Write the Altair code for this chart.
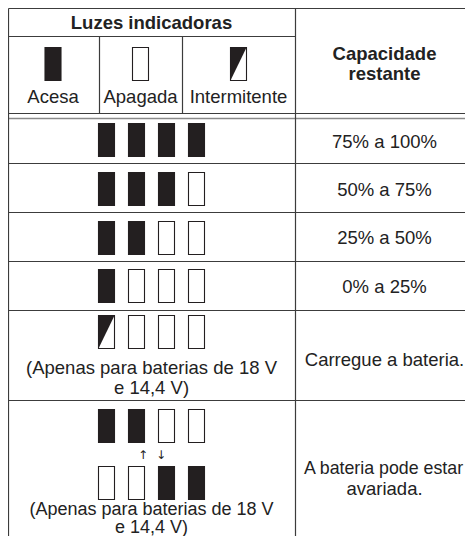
import altair as alt
import pandas as pd

# ---------------- content ----------------
header_left = "Luzes indicadoras"
header_right = ["Capacidade", "restante"]
legend_labels = ["Acesa", "Apagada", "Intermitente"]
legend_states = ["on", "off", "blink"]

# indicator patterns (4 lamps each)
pattern_states = [
    ["on", "on", "on", "on"],
    ["on", "on", "on", "off"],
    ["on", "on", "off", "off"],
    ["on", "off", "off", "off"],
    ["blink", "off", "off", "off"],
    ["on", "on", "off", "off"],
    ["off", "off", "on", "on"],
]
capacity_texts = [
    ["75% a 100%"],
    ["50% a 75%"],
    ["25% a 50%"],
    ["0% a 25%"],
    ["Carregue a bateria."],
    ["A bateria pode estar", "avariada."],
]
note_lines = ["(Apenas para baterias de 18 V", "e 14,4 V)"]
arrow_glyphs = ["\u2191", "\u2193"]

# ---------------- layout (pixels) ----------------
W, H = 457, 528
Y_END = 8 + H
X0, XM, XR = 8.5, 295.5, 8 + W
LEFT_C = 151.5
RIGHT_C = 384.5
Y_TOP, Y_HDIV, Y_HBOT, Y_HBOT2 = 8.5, 36.5, 113.5, 118.5
row_bounds = [118.5, 163.5, 212.5, 261.5, 310.5, 400.5]
sub_div_x = [99.5, 182.5]
legend_cx = [53, 140.5, 238.5]
ICON_W, ICON_H = 16, 33
lamp_offsets = [-45, -15, 15, 45]
legend_top = 47.5

pattern_tops = [123.5, 172.5, 221.5, 269.5, 315.5, 409.5, 466.5]
capacity_y = [[142], [190], [238], [287], [360], [469, 489]]
capacity_size = [[18.5], [18.5], [18.5], [18.5], [18.5], [17.8, 18.5]]
note_y = [[368, 388], [509.5, 527.5]]
note_size = [18.5, 18]
arrow_x = [143, 161]
arrow_y = 454.5
bold_y = [23, 53.5, 73.5]

INK = "#231f20"
LINE = "#3c3c3c"
FONT = "Liberation Sans"

# ---------------- build tables ----------------
rects = []
for cx, st in zip(legend_cx, legend_states):
    rects.append(dict(x=cx - ICON_W / 2, x2=cx + ICON_W / 2, y=legend_top, y2=legend_top + ICON_H, state=st))
for top, states in zip(pattern_tops, pattern_states):
    for off, st in zip(lamp_offsets, states):
        cx = LEFT_C + off
        rects.append(dict(x=cx - ICON_W / 2, x2=cx + ICON_W / 2, y=top, y2=top + ICON_H, state=st))
rect_df = pd.DataFrame(rects)

tri = []
for i, r in enumerate(rect_df[rect_df.state == "blink"].itertuples()):
    tri.append(dict(id=i, x=r.x, y=r.y, y2=r.y2))
    tri.append(dict(id=i, x=r.x2, y=r.y, y2=r.y))
tri_df = pd.DataFrame(tri)

rules = [
    dict(x=X0, x2=XR, y=Y_TOP, y2=Y_TOP, kind="dark"),
    dict(x=X0, x2=XM, y=Y_HDIV, y2=Y_HDIV, kind="dark"),
    dict(x=X0, x2=XR, y=Y_HBOT, y2=Y_HBOT, kind="dark"),
    dict(x=X0, x2=XR, y=Y_HBOT2, y2=Y_HBOT2, kind="light"),
]
for yb in row_bounds[1:]:
    rules.append(dict(x=X0, x2=XR, y=yb, y2=yb, kind="dark"))
rules.append(dict(x=X0, x2=X0, y=Y_TOP, y2=Y_END, kind="dark"))
rules.append(dict(x=XM, x2=XM, y=Y_TOP, y2=Y_END, kind="dark"))
for sx in sub_div_x:
    rules.append(dict(x=sx, x2=sx, y=Y_HDIV, y2=Y_HBOT, kind="dark"))
rule_df = pd.DataFrame(rules)

bold_txt = [dict(x=LEFT_C, y=bold_y[0], t=header_left)]
for t, yy in zip(header_right, bold_y[1:]):
    bold_txt.append(dict(x=RIGHT_C, y=yy, t=t))
bold_df = pd.DataFrame(bold_txt)

reg_txt = []
for cx, t in zip(legend_cx, legend_labels):
    reg_txt.append(dict(x=cx, y=97, t=t, s=18.5))
for lines, ys_, ss in zip(capacity_texts, capacity_y, capacity_size):
    for t, yy, s in zip(lines, ys_, ss):
        reg_txt.append(dict(x=RIGHT_C - (1 if s < 18.5 else 0), y=yy, t=t, s=s))
for ys_, s in zip(note_y, note_size):
    for t, yy in zip(note_lines, ys_):
        reg_txt.append(dict(x=LEFT_C, y=yy, t=t, s=s))
reg_df = pd.DataFrame(reg_txt)

arrow_df = pd.DataFrame(dict(x=arrow_x, y=[arrow_y] * 2, t=arrow_glyphs))

# ---------------- scales ----------------
xs = alt.Scale(domain=[8, 8 + W], range=[0, W], nice=False, zero=False)
ys = alt.Scale(domain=[8, 8 + H], reverse=True, nice=False, zero=False)
X = lambda fld: alt.X(fld, type="quantitative", scale=xs, axis=None)
Y = lambda fld: alt.Y(fld, type="quantitative", scale=ys, axis=None)

rule_layer = alt.Chart(rule_df).mark_rule().encode(
    x=X("x"), x2="x2", y=Y("y"), y2="y2",
    color=alt.Color("kind:N", scale=alt.Scale(domain=["dark", "light"], range=[LINE, "#8a8a8a"]), legend=None),
    strokeWidth=alt.StrokeWidth("kind:N", scale=alt.Scale(domain=["dark", "light"], range=[1.2, 1.6]), legend=None),
)

rect_layer = alt.Chart(rect_df).mark_rect(stroke=INK, strokeWidth=1.1).encode(
    x=X("x"), x2="x2", y=Y("y"), y2="y2",
    fill=alt.Fill("state:N", scale=alt.Scale(domain=["on", "off", "blink"], range=[INK, "white", "white"]), legend=None),
)

tri_layer = alt.Chart(tri_df).mark_area(color=INK, interpolate="linear").encode(
    x=X("x"), y=Y("y"), y2="y2", detail="id:N",
)

bold_layer = alt.Chart(bold_df).mark_text(font=FONT, fontSize=18.5, fontWeight="bold", color="#222222", baseline="middle").encode(
    x=X("x"), y=Y("y"), text="t:N",
)
reg_layer = alt.Chart(reg_df).mark_text(font=FONT, color="#222222", baseline="middle").encode(
    x=X("x"), y=Y("y"), text="t:N", size=alt.Size("s:Q", scale=None),
)
arrow_layer = alt.Chart(arrow_df).mark_text(font="DejaVu Sans", fontSize=12, color="#222222", baseline="middle").encode(
    x=X("x"), y=Y("y"), text="t:N",
)

chart = alt.layer(rule_layer, rect_layer, tri_layer, bold_layer, reg_layer, arrow_layer).properties(
    width=W, height=H, padding=0, autosize=alt.AutoSizeParams(type="none"),
).configure_view(stroke="transparent", strokeWidth=0)

chart.save("out.html", embed_options={"renderer": "svg", "actions": False})
